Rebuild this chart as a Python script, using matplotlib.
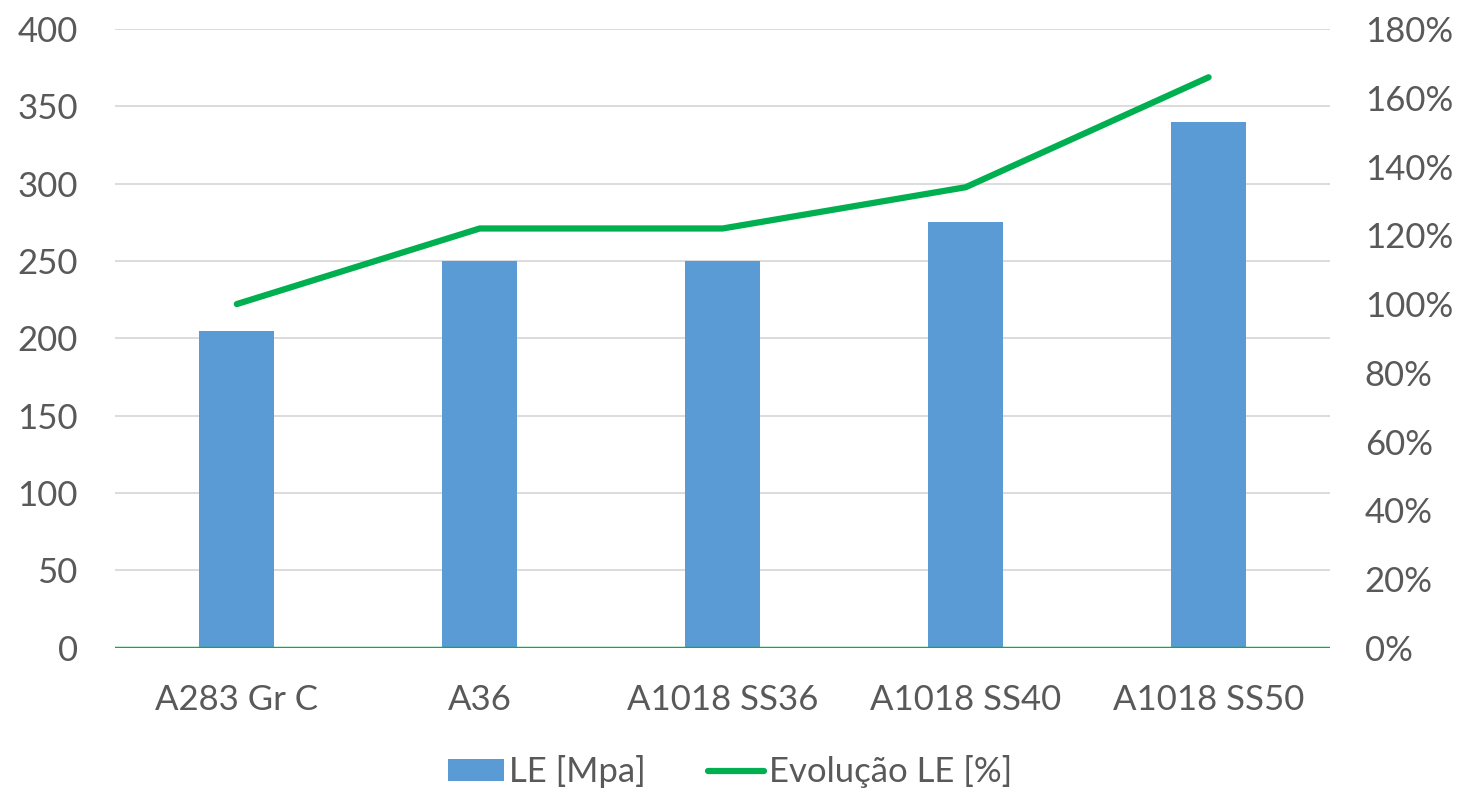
import matplotlib
matplotlib.use("Agg")
import matplotlib.pyplot as plt
from matplotlib.ticker import FuncFormatter

# dados
categorias = ["A283 Gr C", "A36", "A1018 SS36", "A1018 SS40", "A1018 SS50"]
le_mpa = [205, 250, 250, 275, 340]
evolucao = [1.00, 1.22, 1.22, 1.34, 1.66]

plt.rcParams['font.family'] = ['Lato', 'DejaVu Sans']
cor_texto = "#595959"

fig = plt.figure(figsize=(14.6, 7.88), dpi=100)
ax = fig.add_axes([0.079, 0.178, 0.832, 0.785])
ax2 = ax.twinx()

x = list(range(len(categorias)))
ax.bar(x, le_mpa, width=0.31, color="#5B9BD5", zorder=2, label="LE [Mpa]")
ax2.plot(x, evolucao, color="#00B050", lw=4.5, solid_capstyle="round",
         zorder=3, label="Evolução LE [%]")

ax.set_xlim(-0.5, 4.5)
ax.set_ylim(0, 400)
ax.set_yticks(range(0, 401, 50))
ax2.set_ylim(0, 1.8)
ax2.set_yticks([i / 10 for i in range(0, 19, 2)])
ax2.yaxis.set_major_formatter(FuncFormatter(lambda v, p: f"{v*100:.0f}%"))

ax.set_xticks(x)
ax.set_xticklabels(categorias)
ax.grid(axis="y", color="#D9D9D9", lw=1.3, zorder=0)
ax.set_axisbelow(True)

for a in (ax, ax2):
    for s in a.spines.values():
        s.set_visible(False)
    a.tick_params(length=0, labelsize=25, colors=cor_texto)
ax.tick_params(axis="y", pad=27)
ax2.tick_params(axis="y", pad=25)
ax.tick_params(axis="x", pad=26)
ax2.axhline(0, color="#00B050", lw=2.5, zorder=4)

h1, l1 = ax.get_legend_handles_labels()
h2, l2 = ax2.get_legend_handles_labels()
fig.legend(h1 + h2, l1 + l2, loc="lower center", ncol=2, frameon=False,
           fontsize=25, labelcolor=cor_texto, bbox_to_anchor=(0.5, -0.04),
           handlelength=1.6, handleheight=0.6, handletextpad=0.15,
           columnspacing=1.8)

fig.savefig("out.png", dpi=100)
